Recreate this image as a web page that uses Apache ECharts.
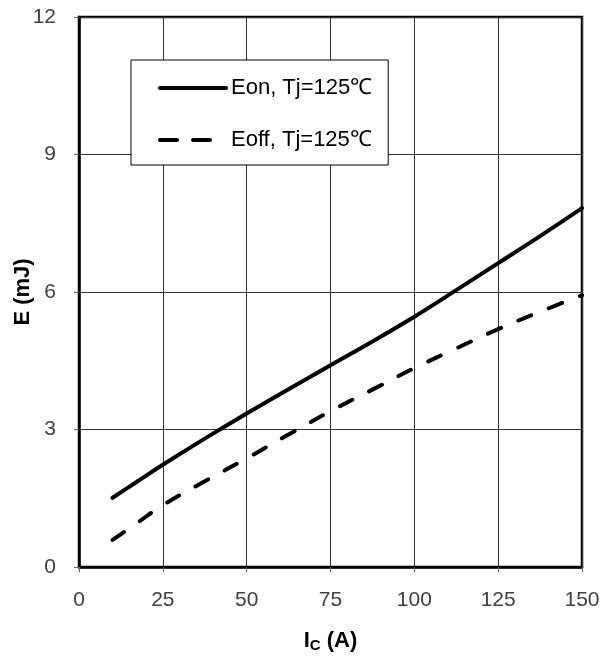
<!DOCTYPE html>
<html><head><meta charset="utf-8">
<script src="https://cdn.jsdelivr.net/npm/echarts@6/dist/echarts.min.js"></script>
<style>html,body{margin:0;padding:0;background:#fff}#c{width:614px;height:656px}</style>
</head><body><div id="c"></div>
<script>
const ic = [10, 17.5, 25, 37.5, 50, 62.5, 75, 87.5, 100, 112.5, 125, 137.5, 150];
const eon = [1.51, 1.87, 2.23, 2.8, 3.35, 3.88, 4.4, 4.92, 5.46, 6.04, 6.63, 7.22, 7.83];
const eoff = [0.59, 0.97, 1.35, 1.87, 2.37, 2.89, 3.4, 3.87, 4.34, 4.77, 5.19, 5.57, 5.93];
const xTicks = [0, 25, 50, 75, 100, 125, 150];
const yTicks = [0, 3, 6, 9, 12];
const names = ['Eon, Tj=125℃', 'Eoff, Tj=125℃'];

const chart = echarts.init(document.getElementById('c'));
const font = 'Liberation Sans, Arial, sans-serif';
chart.setOption({
  animation: false,
  textStyle: {fontFamily: font},
  grid: {left: 79, right: 32, top: 17, bottom: 89, containLabel: false, outerBoundsMode: 'none',
         show: true, borderColor: '#000', borderWidth: 2.5},
  legend: {
    orient: 'vertical', left: 131, top: 60,
    padding: [17, 16, 14, 27], itemGap: 30,
    itemWidth: 66, itemHeight: 20,
    backgroundColor: '#fff', borderColor: '#000', borderWidth: 1,
    textStyle: {fontSize: 22, color: '#000', fontFamily: font},
    itemStyle: {opacity: 0},
    data: [
      {name: names[0], itemStyle: {opacity: 0}, lineStyle: {color: '#000', width: 4, type: 'solid'}},
      {name: names[1], itemStyle: {opacity: 0}, lineStyle: {color: '#000', width: 4, type: [17, 16]}},
    ],
  },
  xAxis: {
    type: 'value', min: 0, max: 150, interval: 25,
    name: '{b|I}{s|C}{b| (A)}', nameLocation: 'middle', nameGap: 61, nameMoveOverlap: false,
    nameTextStyle: {rich: {b: {fontSize: 22, fontWeight: 'bold', color: '#000', fontFamily: font},
                           s: {fontSize: 15, fontWeight: 'bold', color: '#000', fontFamily: font, verticalAlign: 'bottom', padding: [10, 0, 0, 0]}}},
    axisLine: {show: true, lineStyle: {color: '#000', width: 2.5}},
    axisTick: {show: true, length: 5, lineStyle: {color: '#666'}},
    axisLabel: {fontSize: 21, color: '#404040', margin: 23, formatter: v => xTicks.includes(v) ? String(v) : ''},
    splitLine: {show: true, lineStyle: {color: '#333', width: 1}},
  },
  yAxis: {
    type: 'value', min: 0, max: 12, interval: 3,
    name: 'E (mJ)', nameLocation: 'middle', nameGap: 45, nameMoveOverlap: false,
    nameTextStyle: {fontSize: 22, fontWeight: 'bold', color: '#000'},
    axisLine: {show: true, lineStyle: {color: '#000', width: 2.5}},
    axisTick: {show: true, length: 5, lineStyle: {color: '#666'}},
    axisLabel: {fontSize: 21, color: '#404040', margin: 23, formatter: v => yTicks.includes(v) ? String(v) : ''},
    splitLine: {show: true, lineStyle: {color: '#333', width: 1}},
  },
  series: [
    {name: names[0], type: 'line', smooth: 0.4, symbol: 'none', data: ic.map((x, i) => [x, eon[i]]),
     lineStyle: {color: '#000', width: 4, cap: 'round'}, itemStyle: {color: '#000'}},
    {name: names[1], type: 'line', smooth: 0.4, symbol: 'none', data: ic.map((x, i) => [x, eoff[i]]),
     lineStyle: {color: '#000', width: 4, type: [14, 19], cap: 'round'}, itemStyle: {color: '#000'}},
  ]
});
</script></body></html>
